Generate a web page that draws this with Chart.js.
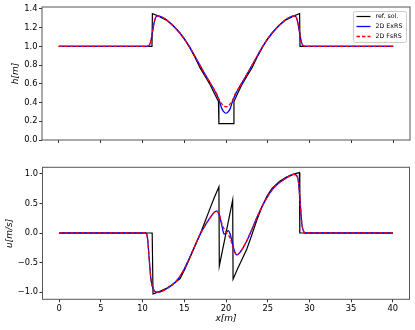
<!DOCTYPE html>
<html>
<head>
<meta charset="utf-8">
<script src="https://cdn.jsdelivr.net/npm/chart.js@4.4.0/dist/chart.umd.min.js"></script>
<style>
  html, body { margin: 0; padding: 0; background: #fff; }
  #wrap { position: relative; width: 415px; height: 330px; }
  canvas { position: absolute; left: 0; }
</style>
</head>
<body>
<div id="wrap">
  <canvas id="hChart" width="415" height="150" style="top:0"></canvas>
  <canvas id="uChart" width="415" height="180" style="top:150px"></canvas>
</div>
<script>
// ticks
const xTicks = [0, 5, 10, 15, 20, 25, 30, 35, 40];
const hTicks = [0, 0.2, 0.4, 0.6, 0.8, 1.0, 1.2, 1.4];
const uTicks = [-1.0, -0.5, 0.0, 0.5, 1.0];

// water depth h, reference solution
const hRefX = [0, 11.15, 11.2, 12.0, 12.9, 13.7, 14.5, 15.1, 15.7, 16.3, 16.9, 17.5, 18.1, 18.6, 19.1, 19.15, 20.9, 20.95, 21.4, 21.9, 22.5, 23.1, 23.7, 24.3, 24.9, 25.5, 26.3, 27.1, 28.0, 28.8, 28.85, 40];
const hRef = [1.0, 1.0, 1.35, 1.32, 1.28, 1.22, 1.14, 1.07, 0.98, 0.88, 0.77, 0.68, 0.59, 0.50, 0.41, 0.175, 0.175, 0.41, 0.50, 0.59, 0.68, 0.77, 0.88, 0.98, 1.07, 1.14, 1.22, 1.28, 1.32, 1.35, 1.0, 1.0];

// h, 2D ExRS / FsRS (same x positions)
const hNumX = [0, 10.5, 10.8, 11.0, 11.2, 11.4, 11.6, 11.8, 12.5, 13.5, 14.5, 15.5, 16.5, 17.5, 18.3, 18.8, 19.2, 19.5, 19.8, 20.0, 20.2, 20.5, 20.8, 21.2, 21.7, 22.5, 23.5, 24.5, 25.5, 26.5, 27.5, 28.2, 28.4, 28.6, 28.8, 29.0, 29.2, 29.5, 40];
const hExRS = [1.0, 1.0, 1.01, 1.05, 1.15, 1.25, 1.31, 1.325, 1.305, 1.235, 1.14, 1.015, 0.86, 0.70, 0.58, 0.50, 0.42, 0.335, 0.295, 0.287, 0.295, 0.335, 0.42, 0.50, 0.58, 0.70, 0.86, 1.015, 1.14, 1.235, 1.305, 1.325, 1.31, 1.25, 1.15, 1.05, 1.01, 1.0, 1.0];
const hFsRS = [1.0, 1.0, 1.01, 1.05, 1.15, 1.25, 1.31, 1.325, 1.305, 1.235, 1.14, 1.015, 0.86, 0.70, 0.58, 0.51, 0.43, 0.385, 0.36, 0.355, 0.36, 0.385, 0.43, 0.51, 0.58, 0.70, 0.86, 1.015, 1.14, 1.235, 1.305, 1.325, 1.31, 1.25, 1.15, 1.05, 1.01, 1.0, 1.0];

// velocity u, reference solution
const uRefX = [0, 11.15, 11.25, 12.0, 12.8, 13.6, 14.5, 15.1, 15.7, 16.3, 16.9, 17.5, 18.1, 18.6, 19.15, 19.2, 20.8, 20.85, 21.4, 21.9, 22.5, 23.1, 23.7, 24.3, 24.9, 25.5, 26.4, 27.2, 28.0, 28.8, 28.85, 40];
const uRef = [0, 0, -1.03, -0.99, -0.94, -0.87, -0.77, -0.6, -0.41, -0.21, -0.02, 0.2, 0.42, 0.6, 0.78, -0.555, 0.555, -0.78, -0.6, -0.45, -0.27, -0.03, 0.22, 0.44, 0.62, 0.75, 0.87, 0.94, 0.99, 1.02, 0, 0];

// u, 2D ExRS / FsRS
const uNumX = [0, 10.4, 10.6, 10.8, 11.0, 11.3, 11.7, 12.2, 13.0, 14.0, 14.8, 15.5, 16.2, 16.9, 17.5, 18.1, 18.6, 18.9, 19.2, 19.5, 19.7, 19.85, 20.1, 20.3, 20.5, 20.7, 21.0, 21.3, 21.6, 22.0, 22.5, 23.1, 23.7, 24.4, 25.0, 25.6, 26.3, 27.0, 27.6, 28.1, 28.4, 28.7, 28.9, 29.1, 29.3, 29.5, 40];
const uExRS = [0, 0, -0.1, -0.45, -0.78, -0.95, -1.0, -0.99, -0.93, -0.82, -0.66, -0.46, -0.24, -0.02, 0.13, 0.26, 0.35, 0.37, 0.3, 0.13, 0.0, -0.02, 0.02, 0.04, -0.02, -0.13, -0.3, -0.37, -0.34, -0.26, -0.13, 0.06, 0.26, 0.47, 0.62, 0.74, 0.84, 0.91, 0.96, 0.99, 0.98, 0.85, 0.5, 0.15, 0.03, 0.0, 0];
const uFsRS = [0, 0, -0.1, -0.45, -0.78, -0.95, -1.0, -0.99, -0.93, -0.82, -0.66, -0.46, -0.24, -0.02, 0.13, 0.26, 0.35, 0.37, 0.31, 0.16, 0.09, 0.05, 0.0, -0.04, -0.09, -0.18, -0.31, -0.37, -0.34, -0.26, -0.13, 0.06, 0.26, 0.47, 0.62, 0.74, 0.84, 0.91, 0.96, 0.99, 0.98, 0.85, 0.5, 0.15, 0.03, 0.0, 0];

const labels = ['ref. sol.', '2D ExRS', '2D FsRS'];

Chart.defaults.font.family = 'DejaVu Sans';
Chart.defaults.font.size = 8.3;
Chart.defaults.color = '#000';

let pts = (xs, ys) => xs.map((x, i) => ({ x: x, y: ys[i] }));

let makeSets = (rx, ry, nx, ex, fs) => [
  { label: labels[0], data: pts(rx, ry), borderColor: '#000', borderWidth: 1.2, tension: 0, order: 3 },
  { label: labels[1], data: pts(nx, ex), borderColor: '#0000ff', borderWidth: 1.3, cubicInterpolationMode: 'monotone', order: 2 },
  { label: labels[2], data: pts(nx, fs), borderColor: '#ff0000', borderWidth: 1.3, borderDash: [3.5, 2], cubicInterpolationMode: 'monotone', order: 1 },
];

// box around the plot area, like matplotlib spines
const frame = {
  id: 'frame',
  afterDraw(chart) {
    const { ctx, chartArea: a } = chart;
    ctx.save();
    ctx.strokeStyle = '#555';
    ctx.lineWidth = 1;
    ctx.strokeRect(a.left, a.top, a.right - a.left, a.bottom - a.top);
    ctx.restore();
  }
};

const legendBox = {
  id: 'legendBox',
  afterDraw(chart) {
    const ctx = chart.ctx;
    const x0 = 353.5, y0 = 11.5, w = 53, h = 31;
    ctx.save();
    ctx.fillStyle = 'rgba(255,255,255,0.8)';
    ctx.strokeStyle = '#ccc';
    ctx.lineWidth = 1;
    ctx.beginPath();
    ctx.roundRect(x0, y0, w, h, 2);
    ctx.fill();
    ctx.stroke();
    chart.data.datasets.forEach((ds, i) => {
      const y = y0 + 5 + i * 10;
      ctx.strokeStyle = ds.borderColor;
      ctx.lineWidth = ds.borderWidth;
      ctx.setLineDash(ds.borderDash || []);
      ctx.beginPath();
      ctx.moveTo(x0 + 3, y);
      ctx.lineTo(x0 + 17, y);
      ctx.stroke();
      ctx.setLineDash([]);
      ctx.fillStyle = '#000';
      ctx.font = '6.3px "DejaVu Sans"';
      ctx.textBaseline = 'middle';
      ctx.fillText(ds.label, x0 + 22, y);
    });
    ctx.restore();
  }
};

let xAxis = (showLabels, h) => ({
  type: 'linear', min: -2, max: 42,
  afterBuildTicks: s => { s.ticks = xTicks.map(v => ({ value: v })); },
  afterFit: s => { s.height = h; },
  ticks: { display: showLabels, padding: 1.5, callback: v => String(v) },
  grid: { drawOnChartArea: false, tickLength: 3, tickColor: '#333' },
  border: { display: false },
  title: { display: showLabels, text: 'x[m]', font: { size: 9, style: 'italic' }, padding: { top: 0, bottom: 5.5 } }
});

let fmt = v => (v < 0 ? '\u2212' : '') + Math.abs(v).toFixed(1);

new Chart(document.getElementById('hChart'), {
  type: 'line',
  data: { datasets: makeSets(hRefX, hRef, hNumX, hExRS, hFsRS) },
  options: {
    responsive: false, animation: false, devicePixelRatio: 1,
    layout: { padding: { left: 0, right: 5, top: 7, bottom: 0 } },
    elements: { point: { radius: 0 } },
    plugins: { legend: { display: false }, tooltip: { enabled: false } },
    scales: {
      x: xAxis(false, 10),
      y: {
        min: 0, max: 1.42,
        afterBuildTicks: s => { s.ticks = hTicks.map(v => ({ value: v })); },
        afterFit: s => { s.width = 42; },
        ticks: { padding: 1.5, callback: fmt },
        grid: { drawOnChartArea: false, tickLength: 3, tickColor: '#333' },
        border: { display: false },
        title: { display: true, text: 'h[m]', font: { size: 9, style: 'italic' }, padding: { top: 10.5, bottom: 0 } }
      }
    }
  },
  plugins: [frame, legendBox]
});

new Chart(document.getElementById('uChart'), {
  type: 'line',
  data: { datasets: makeSets(uRefX, uRef, uNumX, uExRS, uFsRS) },
  options: {
    responsive: false, animation: false, devicePixelRatio: 1,
    layout: { padding: { left: 0.5, right: 5.5, top: 17.3, bottom: 0 } },
    elements: { point: { radius: 0 } },
    plugins: { legend: { display: false }, tooltip: { enabled: false } },
    scales: {
      x: xAxis(true, 30.7),
      y: {
        min: -1.12, max: 1.11,
        afterBuildTicks: s => { s.ticks = uTicks.map(v => ({ value: v })); },
        afterFit: s => { s.width = 42; },
        ticks: { padding: 1.5, callback: fmt },
        grid: { drawOnChartArea: false, tickLength: 3, tickColor: '#333' },
        border: { display: false },
        title: { display: true, text: 'u[m/s]', font: { size: 9, style: 'italic' }, padding: { top: 3.5, bottom: 0 } }
      }
    }
  },
  plugins: [frame]
});
</script>
</body>
</html>
